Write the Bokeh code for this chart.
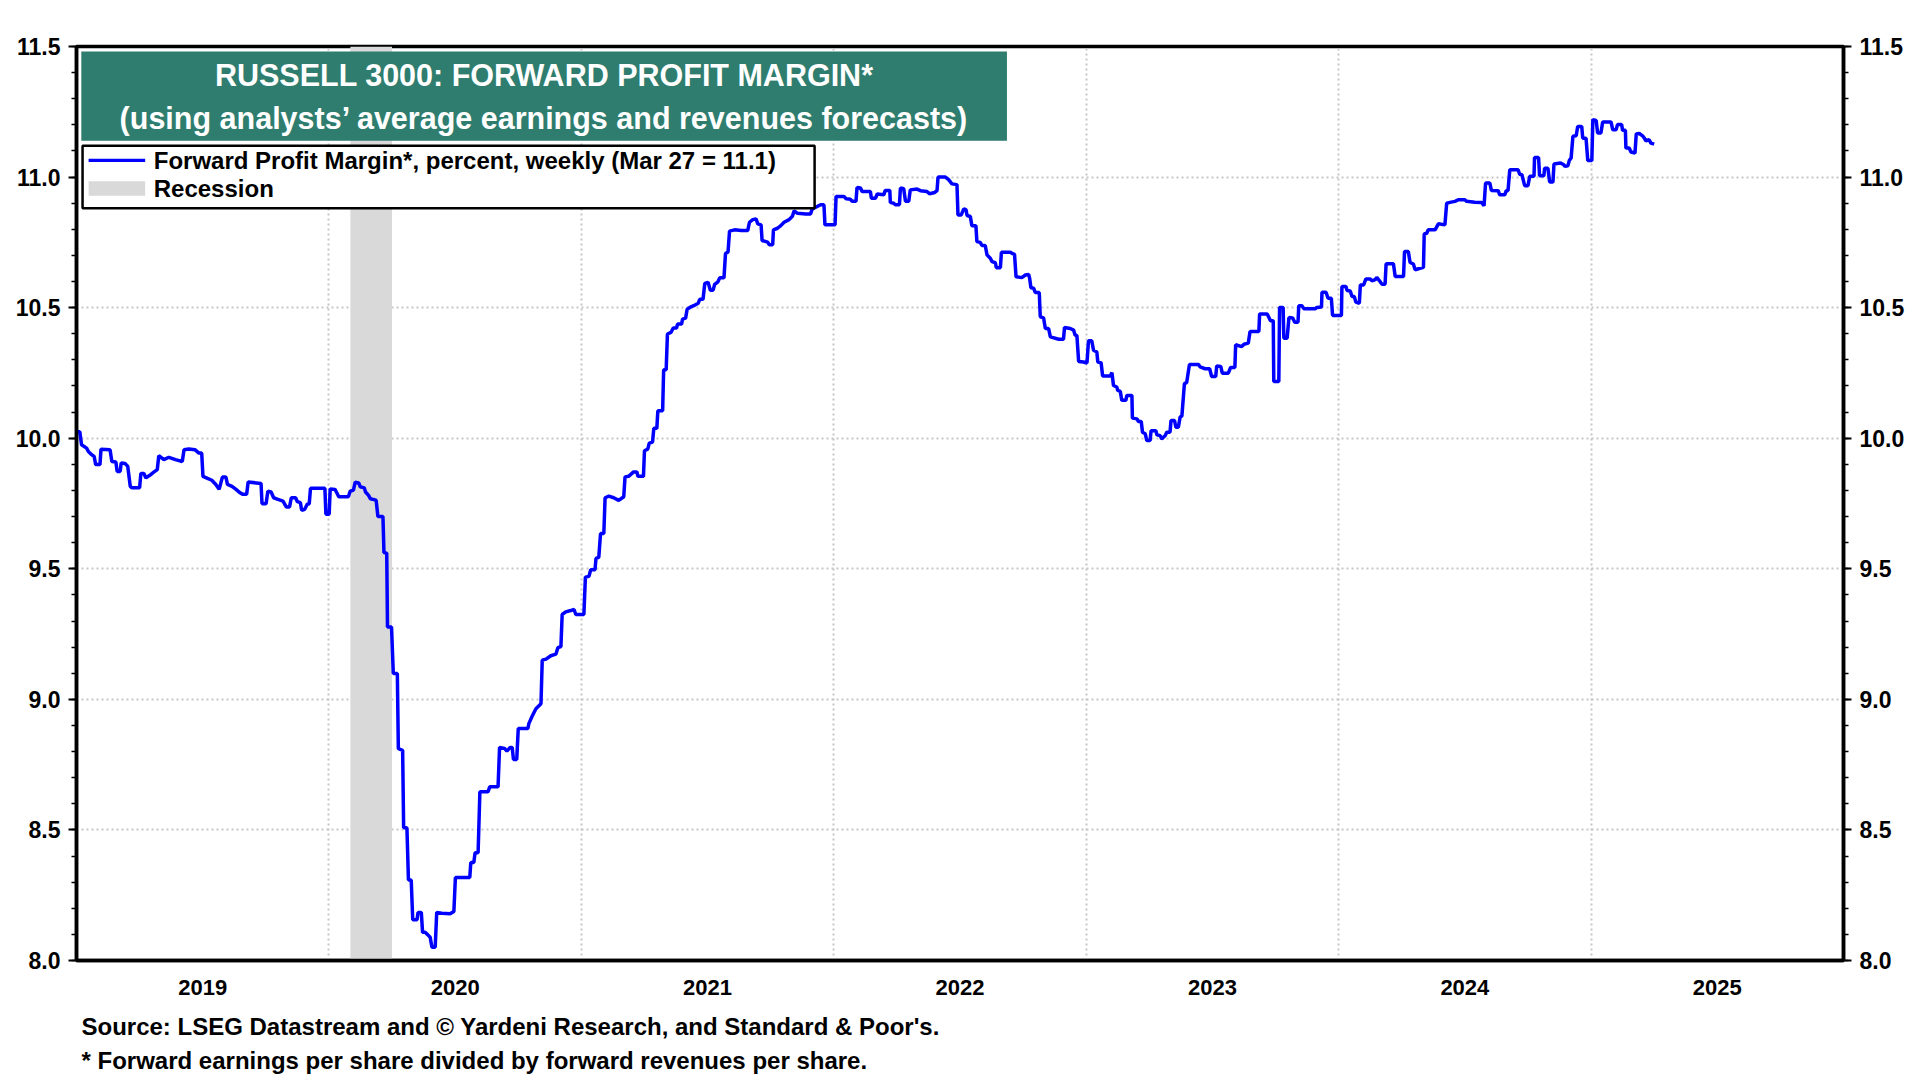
from bokeh.plotting import figure
from bokeh.models import (FixedTicker, SingleIntervalTicker, NumeralTickFormatter,
                          CustomJSTickFormatter, LinearAxis, BoxAnnotation, Label, Range1d, Title)
from bokeh.embed import file_html
from bokeh.resources import INLINE

FONT = "Liberation Sans"

# ---------------- data ----------------
title_line1 = "RUSSELL 3000: FORWARD PROFIT MARGIN*"
title_line2 = "(using analysts\u2019 average earnings and revenues forecasts)"
legend_line = "Forward Profit Margin*, percent, weekly (Mar 27 = 11.1)"
legend_rec = "Recession"
note_source = "Source: LSEG Datastream and \u00a9 Yardeni Research, and Standard & Poor's."
note_star = "* Forward earnings per share divided by forward revenues per share."

year_labels = ["2019", "2020", "2021", "2022", "2023", "2024", "2025"]
year_starts = [2019, 2020, 2021, 2022, 2023, 2024, 2025, 2026]

recession_start = [2020.085]
recession_end = [2020.25]

years = [
    2019.000, 2019.013, 2019.020, 2019.040, 2019.047, 2019.060, 2019.070, 2019.076, 2019.093, 2019.097,
    2019.133, 2019.140, 2019.156, 2019.161, 2019.173, 2019.177, 2019.193, 2019.203, 2019.213, 2019.219,
    2019.250, 2019.255, 2019.267, 2019.275, 2019.289, 2019.306, 2019.320, 2019.326, 2019.346, 2019.366,
    2019.392, 2019.419, 2019.426, 2019.445, 2019.469, 2019.485, 2019.496, 2019.501, 2019.519, 2019.536,
    2019.552, 2019.565, 2019.578, 2019.592, 2019.598, 2019.616, 2019.632, 2019.648, 2019.658, 2019.674,
    2019.680, 2019.731, 2019.735, 2019.751, 2019.758, 2019.771, 2019.781, 2019.798, 2019.818, 2019.831,
    2019.844, 2019.851, 2019.868, 2019.875, 2019.887, 2019.892, 2019.904, 2019.914, 2019.922, 2019.927,
    2019.984, 2019.988, 2020.001, 2020.005, 2020.024, 2020.031, 2020.039, 2020.077, 2020.084, 2020.097,
    2020.104, 2020.118, 2020.124, 2020.140, 2020.145, 2020.157, 2020.164, 2020.187, 2020.194, 2020.214,
    2020.218, 2020.229, 2020.232, 2020.248, 2020.255, 2020.271, 2020.275, 2020.292, 2020.296, 2020.309,
    2020.315, 2020.326, 2020.332, 2020.349, 2020.353, 2020.366, 2020.371, 2020.381, 2020.391, 2020.401,
    2020.408, 2020.421, 2020.427, 2020.447, 2020.480, 2020.495, 2020.501, 2020.558, 2020.562, 2020.574,
    2020.579, 2020.591, 2020.598, 2020.630, 2020.637, 2020.670, 2020.676, 2020.696, 2020.705, 2020.718,
    2020.726, 2020.731, 2020.744, 2020.750, 2020.788, 2020.792, 2020.805, 2020.820, 2020.840, 2020.845,
    2020.860, 2020.879, 2020.899, 2020.907, 2020.919, 2020.924, 2020.938, 2020.958, 2020.971, 2020.978,
    2021.010, 2021.016, 2021.030, 2021.037, 2021.054, 2021.058, 2021.069, 2021.076, 2021.089, 2021.094,
    2021.109, 2021.128, 2021.148, 2021.168, 2021.173, 2021.187, 2021.207, 2021.220, 2021.224, 2021.246,
    2021.250, 2021.263, 2021.269, 2021.282, 2021.287, 2021.299, 2021.303, 2021.322, 2021.326, 2021.336,
    2021.341, 2021.355, 2021.364, 2021.377, 2021.381, 2021.397, 2021.401, 2021.413, 2021.419, 2021.436,
    2021.450, 2021.463, 2021.469, 2021.482, 2021.489, 2021.502, 2021.511, 2021.522, 2021.528, 2021.541,
    2021.548, 2021.565, 2021.571, 2021.581, 2021.587, 2021.607, 2021.633, 2021.659, 2021.666, 2021.679,
    2021.692, 2021.699, 2021.712, 2021.716, 2021.738, 2021.744, 2021.758, 2021.761, 2021.777, 2021.790,
    2021.803, 2021.823, 2021.836, 2021.843, 2021.856, 2021.889, 2021.908, 2021.915, 2021.948, 2021.961,
    2021.965, 2022.005, 2022.009, 2022.040, 2022.049, 2022.066, 2022.073, 2022.088, 2022.092, 2022.106,
    2022.112, 2022.145, 2022.149, 2022.165, 2022.172, 2022.198, 2022.204, 2022.222, 2022.224, 2022.237,
    2022.244, 2022.260, 2022.264, 2022.277, 2022.284, 2022.297, 2022.303, 2022.330, 2022.343, 2022.369,
    2022.379, 2022.400, 2022.409, 2022.413, 2022.442, 2022.455, 2022.468, 2022.488, 2022.492, 2022.505,
    2022.515, 2022.524, 2022.528, 2022.541, 2022.547, 2022.563, 2022.567, 2022.580, 2022.587, 2022.600,
    2022.607, 2022.620, 2022.627, 2022.640, 2022.644, 2022.660, 2022.664, 2022.699, 2022.706, 2022.716,
    2022.722, 2022.745, 2022.759, 2022.772, 2022.776, 2022.781, 2022.792, 2022.798, 2022.814, 2022.818,
    2022.831, 2022.838, 2022.851, 2022.858, 2022.891, 2022.910, 2022.914, 2022.937, 2022.950, 2022.956,
    2022.963, 2022.970, 2022.989, 2023.003, 2023.009, 2023.022, 2023.029, 2023.042, 2023.046, 2023.059,
    2023.065, 2023.095, 2023.102, 2023.108, 2023.121, 2023.125, 2023.135, 2023.141, 2023.157, 2023.161,
    2023.181, 2023.183, 2023.201, 2023.207, 2023.218, 2023.223, 2023.234, 2023.240, 2023.253, 2023.257,
    2023.276, 2023.280, 2023.293, 2023.299, 2023.313, 2023.319, 2023.332, 2023.336, 2023.350, 2023.355,
    2023.365, 2023.372, 2023.379, 2023.389, 2023.398, 2023.409, 2023.445, 2023.451, 2023.471, 2023.489,
    2023.497, 2023.513, 2023.517, 2023.533, 2023.539, 2023.563, 2023.572, 2023.589, 2023.592, 2023.616,
    2023.625, 2023.642, 2023.649, 2023.684, 2023.687, 2023.717, 2023.730, 2023.741, 2023.743, 2023.763,
    2023.766, 2023.780, 2023.783, 2023.796, 2023.803, 2023.818, 2023.826, 2023.839, 2023.842, 2023.855,
    2023.862, 2023.908, 2023.914, 2023.932, 2023.934, 2023.950, 2023.958, 2023.971, 2023.976, 2024.011,
    2024.013, 2024.029, 2024.033, 2024.046, 2024.053, 2024.062, 2024.068, 2024.082, 2024.086, 2024.099,
    2024.108, 2024.125, 2024.132, 2024.145, 2024.151, 2024.164, 2024.171, 2024.184, 2024.188, 2024.217,
    2024.224, 2024.257, 2024.261, 2024.276, 2024.283, 2024.296, 2024.303, 2024.316, 2024.336, 2024.339,
    2024.349, 2024.355, 2024.382, 2024.395, 2024.421, 2024.428, 2024.441, 2024.461, 2024.474, 2024.500,
    2024.507, 2024.539, 2024.566, 2024.576, 2024.582, 2024.599, 2024.605, 2024.632, 2024.638, 2024.658,
    2024.664, 2024.671, 2024.678, 2024.711, 2024.717, 2024.726, 2024.737, 2024.750, 2024.757, 2024.774,
    2024.776, 2024.792, 2024.796, 2024.813, 2024.816, 2024.829, 2024.836, 2024.849, 2024.853, 2024.879,
    2024.892, 2024.897, 2024.908, 2024.914, 2024.921, 2024.928, 2024.941, 2024.947, 2024.963, 2024.967,
    2024.980, 2024.987, 2025.003, 2025.007, 2025.020, 2025.026, 2025.039, 2025.046, 2025.079, 2025.086,
    2025.099, 2025.105, 2025.121, 2025.125, 2025.136, 2025.138, 2025.151, 2025.158, 2025.174, 2025.179,
    2025.191, 2025.204, 2025.211, 2025.217, 2025.230, 2025.237, 2025.250,
]

margin = [
    10.025, 10.025, 9.975, 9.962, 9.949, 9.937, 9.930, 9.899, 9.899, 9.958,
    9.956, 9.911, 9.909, 9.873, 9.873, 9.905, 9.903, 9.892, 9.816, 9.810,
    9.810, 9.865, 9.865, 9.848, 9.857, 9.870, 9.880, 9.933, 9.918, 9.927,
    9.918, 9.911, 9.956, 9.959, 9.956, 9.943, 9.943, 9.854, 9.846, 9.839,
    9.823, 9.804, 9.851, 9.851, 9.823, 9.816, 9.804, 9.791, 9.785, 9.785,
    9.832, 9.827, 9.749, 9.749, 9.797, 9.794, 9.772, 9.766, 9.759, 9.737,
    9.737, 9.772, 9.772, 9.757, 9.753, 9.724, 9.728, 9.747, 9.749, 9.808,
    9.808, 9.709, 9.709, 9.806, 9.804, 9.791, 9.776, 9.776, 9.797, 9.801,
    9.832, 9.829, 9.814, 9.810, 9.794, 9.781, 9.768, 9.763, 9.700, 9.700,
    9.562, 9.560, 9.277, 9.277, 9.099, 9.099, 8.811, 8.805, 8.508, 8.508,
    8.308, 8.308, 8.156, 8.156, 8.184, 8.184, 8.108, 8.108, 8.099, 8.089,
    8.051, 8.051, 8.184, 8.181, 8.179, 8.188, 8.318, 8.318, 8.375, 8.375,
    8.413, 8.413, 8.646, 8.646, 8.665, 8.665, 8.816, 8.812, 8.802, 8.816,
    8.816, 8.770, 8.770, 8.888, 8.888, 8.907, 8.935, 8.964, 8.983, 9.150,
    9.154, 9.167, 9.173, 9.198, 9.202, 9.325, 9.335, 9.340, 9.344, 9.325,
    9.325, 9.468, 9.471, 9.496, 9.496, 9.540, 9.544, 9.635, 9.635, 9.772,
    9.778, 9.772, 9.762, 9.776, 9.852, 9.854, 9.871, 9.871, 9.854, 9.854,
    9.952, 9.958, 9.981, 9.985, 10.038, 10.038, 10.105, 10.105, 10.262, 10.262,
    10.399, 10.405, 10.422, 10.422, 10.437, 10.437, 10.456, 10.460, 10.494, 10.504,
    10.510, 10.517, 10.532, 10.532, 10.593, 10.597, 10.567, 10.567, 10.589, 10.599,
    10.614, 10.614, 10.707, 10.713, 10.793, 10.798, 10.795, 10.795, 10.827, 10.837,
    10.840, 10.821, 10.817, 10.757, 10.751, 10.741, 10.741, 10.798, 10.804, 10.814,
    10.827, 10.837, 10.850, 10.871, 10.861, 10.859, 10.859, 10.878, 10.894, 10.894,
    10.817, 10.817, 10.926, 10.926, 10.917, 10.915, 10.907, 10.907, 10.960, 10.958,
    10.945, 10.945, 10.919, 10.919, 10.935, 10.932, 10.949, 10.949, 10.903, 10.900,
    10.894, 10.894, 10.958, 10.955, 10.907, 10.907, 10.951, 10.954, 10.948, 10.945,
    10.936, 10.941, 10.948, 11.000, 11.000, 10.990, 10.974, 10.971, 10.855, 10.855,
    10.878, 10.875, 10.853, 10.849, 10.814, 10.814, 10.753, 10.750, 10.738, 10.738,
    10.702, 10.689, 10.676, 10.672, 10.653, 10.653, 10.712, 10.712, 10.708, 10.704,
    10.618, 10.615, 10.625, 10.627, 10.612, 10.576, 10.574, 10.558, 10.558, 10.465,
    10.461, 10.420, 10.420, 10.388, 10.379, 10.379, 10.424, 10.420, 10.414, 10.394,
    10.394, 10.294, 10.292, 10.288, 10.373, 10.373, 10.337, 10.330, 10.292, 10.289,
    10.238, 10.238, 10.251, 10.202, 10.196, 10.183, 10.179, 10.145, 10.145, 10.164,
    10.164, 10.077, 10.074, 10.064, 10.064, 10.023, 10.017, 9.991, 9.991, 10.029,
    10.029, 10.013, 10.010, 9.997, 10.010, 10.023, 10.023, 10.068, 10.068, 10.042,
    10.042, 10.081, 10.085, 10.209, 10.213, 10.282, 10.282, 10.273, 10.266, 10.266,
    10.236, 10.236, 10.277, 10.275, 10.249, 10.249, 10.271, 10.271, 10.358, 10.351,
    10.360, 10.364, 10.409, 10.409, 10.476, 10.476, 10.450, 10.450, 10.217, 10.217,
    10.501, 10.501, 10.383, 10.383, 10.462, 10.460, 10.444, 10.444, 10.507, 10.507,
    10.496, 10.496, 10.501, 10.502, 10.559, 10.559, 10.536, 10.536, 10.470, 10.470,
    10.581, 10.581, 10.566, 10.564, 10.543, 10.543, 10.521, 10.517, 10.587, 10.587,
    10.610, 10.610, 10.603, 10.607, 10.616, 10.600, 10.590, 10.590, 10.668, 10.668,
    10.619, 10.619, 10.715, 10.715, 10.673, 10.667, 10.645, 10.649, 10.654, 10.782,
    10.785, 10.798, 10.798, 10.821, 10.817, 10.900, 10.903, 10.907, 10.913, 10.913,
    10.907, 10.904, 10.903, 10.890, 10.977, 10.977, 10.949, 10.948, 10.932, 10.932,
    10.948, 10.948, 11.028, 11.028, 11.011, 11.009, 10.967, 10.967, 11.003, 11.003,
    11.075, 11.075, 11.005, 11.005, 11.034, 11.034, 10.981, 10.981, 11.050, 11.054,
    11.047, 11.041, 11.043, 11.064, 11.073, 11.156, 11.158, 11.194, 11.194, 11.149,
    11.149, 11.063, 11.063, 11.220, 11.217, 11.169, 11.169, 11.211, 11.211, 11.181,
    11.181, 11.201, 11.201, 11.179, 11.179, 11.111, 11.111, 11.096, 11.092, 11.165,
    11.167, 11.158, 11.149, 11.139, 11.143, 11.130, 11.126,
]

# ---------------- figure ----------------
p = figure(width=1912, height=1080, output_backend="svg", toolbar_location=None,
           x_range=Range1d(year_starts[0], year_starts[-1]), y_range=Range1d(8.0, 11.5),
           min_border_left=76, min_border_right=69, min_border_top=46, min_border_bottom=120)
p.background_fill_color = "white"
p.border_fill_color = "white"
p.outline_line_color = "black"
p.outline_line_width = 3.5
p.outline_line_alpha = 1.0

# recession band
for s, e in zip(recession_start, recession_end):
    p.add_layout(BoxAnnotation(left=s, right=e, fill_color="#d9d9d9", fill_alpha=1.0,
                               line_color=None, level="underlay"))

# grids
p.xgrid.ticker = FixedTicker(ticks=year_starts[1:-1])
p.ygrid.ticker = SingleIntervalTicker(interval=0.5)
for g in (p.xgrid[0], p.ygrid[0]):
    g.grid_line_color = "#c6c6c6"
    g.grid_line_width = 2
    g.grid_line_dash = "2 3"
    g.level = "underlay"

# data line
p.line(years, margin, line_color="#0000ff", line_width=3.5)

# x axis: labels centred in each year
xax = p.xaxis[0]
xax.ticker = FixedTicker(ticks=[y + 0.5 for y in year_starts[:-1]])
xax.formatter = CustomJSTickFormatter(code="return String(Math.floor(tick));")
xax.major_tick_line_color = None
xax.minor_tick_line_color = None
xax.axis_line_color = "black"
xax.axis_line_width = 3.5
xax.major_label_standoff = 13
xax.major_label_text_font = FONT
xax.major_label_text_font_size = "22px"
xax.major_label_text_font_style = "bold"
xax.major_label_text_color = "black"

# y axes left and right
right_ax = LinearAxis()
p.add_layout(right_ax, "right")
for ax in (p.yaxis[0], right_ax):
    ax.ticker = SingleIntervalTicker(interval=0.5, num_minor_ticks=5)
    ax.formatter = NumeralTickFormatter(format="0.0")
    ax.axis_line_color = "black"
    ax.axis_line_width = 3.5
    ax.major_tick_in = 0
    ax.major_tick_out = 8
    ax.minor_tick_in = 0
    ax.minor_tick_out = 5
    ax.major_tick_line_width = 2
    ax.minor_tick_line_width = 1.5
    ax.major_tick_line_color = "black"
    ax.minor_tick_line_color = "black"
    ax.major_label_standoff = 8
    ax.major_label_text_font = FONT
    ax.major_label_text_font_size = "23px"
    ax.major_label_text_font_style = "bold"
    ax.major_label_text_color = "black"

# title box
p.add_layout(BoxAnnotation(left=2019.019, right=2022.686, top=11.481, bottom=11.139,
                           fill_color="#2e7d6e", fill_alpha=1.0, line_color=None, level="overlay"))
for txt, yy in ((title_line1, 11.392), (title_line2, 11.228)):
    p.add_layout(Label(x=2020.853, y=yy, text=txt, text_align="center", text_baseline="middle",
                       text_color="white", text_font=FONT, text_font_size="30.5px",
                       text_font_style="bold", level="overlay"))

# legend box
p.add_layout(BoxAnnotation(left=2019.024, right=2021.924, top=11.120, bottom=10.881,
                           fill_color="white", fill_alpha=1.0, line_color="black", line_alpha=1.0,
                           line_width=2.5, level="overlay"))
p.add_layout(BoxAnnotation(left=2019.048, right=2019.272, top=11.070, bottom=11.058,
                           fill_color="#0000ff", fill_alpha=1.0, line_color=None, level="overlay"))
p.add_layout(BoxAnnotation(left=2019.048, right=2019.272, top=10.984, bottom=10.928,
                           fill_color="#d9d9d9", fill_alpha=1.0, line_color=None, level="overlay"))
for txt, yy in ((legend_line, 11.064), (legend_rec, 10.956)):
    p.add_layout(Label(x=2019.306, y=yy, text=txt, text_align="left", text_baseline="middle",
                       text_color="black", text_font=FONT, text_font_size="24px",
                       text_font_style="bold", level="overlay"))

# notes below the chart
for txt, so in ((note_source, 26), (note_star, -16)):
    p.add_layout(Title(text=txt, align="left", offset=5, standoff=so, text_font=FONT,
                       text_font_size="24px", text_font_style="bold", text_color="black"),
                 "below")

open("out.html", "w").write(file_html(p, INLINE))
